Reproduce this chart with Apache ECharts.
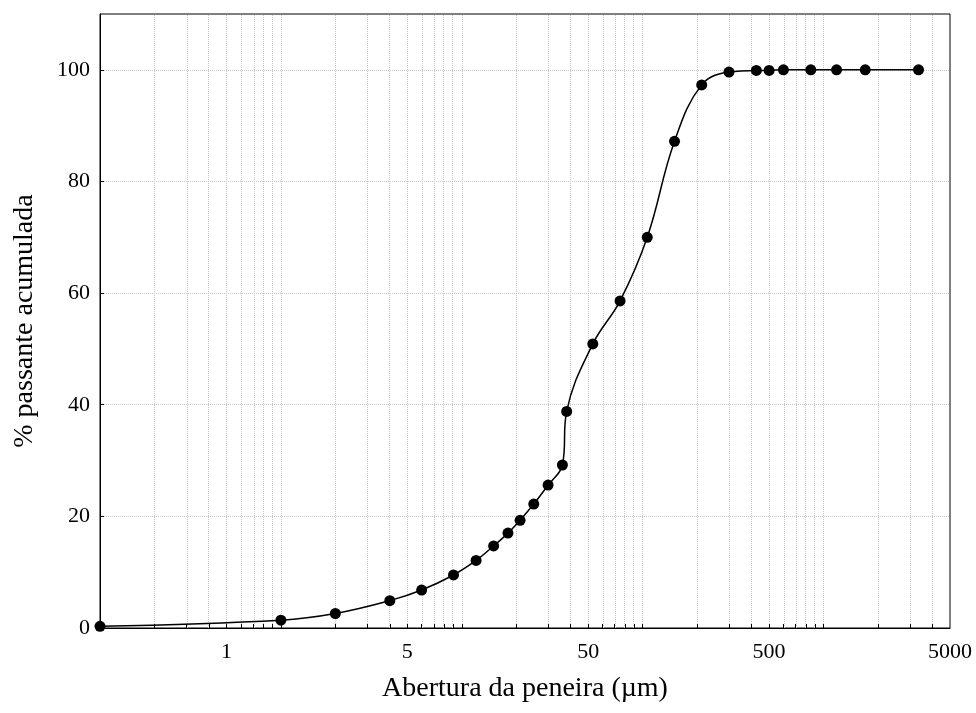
<!DOCTYPE html>
<html>
<head>
<meta charset="utf-8">
<script src="https://cdn.jsdelivr.net/npm/echarts@6/dist/echarts.min.js"></script>
<style>
  html, body { margin: 0; padding: 0; background: #fff; }
  #chart { width: 976px; height: 713px; }
</style>
</head>
<body>
<div id="chart"></div>
<script>
// abertura da peneira (um) e % passante acumulada
var sizes   = [0.1, 1, 2, 4, 6, 9, 12, 15, 18, 21, 25, 30, 36, 38, 53, 75, 106, 150, 212, 300, 425, 500, 600, 850, 1180, 1700, 3350];
var passing = [0.3, 1.4, 2.6, 4.9, 6.8, 9.5, 12.1, 14.7, 17.0, 19.3, 22.2, 25.6, 29.2, 38.8, 50.9, 58.6, 70.0, 87.2, 97.3, 99.6, 99.9, 99.9, 100, 100, 100, 100, 100];

// rotulos do eixo x (o original mostra "1" na posicao de 0.5)
var xTickValues = [0.5, 5, 50, 500, 5000];
var xTickLabels = ['1', '5', '50', '500', '5000'];
var yTickValues = [0, 20, 40, 60, 80, 100];

var xMin = 0.1, xMax = 5000;

// grade logaritmica 1..9 x 10^n
var gridValues = [];
for (var e = -1; e <= 3; e++) {
    for (var k = 1; k <= 9; k++) {
        var v = k * Math.pow(10, e);
        if (v > xMin && v < xMax) gridValues.push(v);
    }
}

var lg = function (v) { return Math.log10(v); };
var font = '"Liberation Serif", "Times New Roman", serif';
var gridColor = '#c8c8c8';

var chart = echarts.init(document.getElementById('chart'));

var option = {
    animation: false,
    backgroundColor: '#fff',
    grid: {
        left: 100, right: 26, top: 14, bottom: 85,
        show: true, borderColor: '#000', borderWidth: 1,
        outerBoundsMode: 'none'
    },
    xAxis: {
        type: 'value',
        min: lg(xMin),
        max: lg(xMax),
        name: 'Abertura da peneira (\u00b5m)',
        nameLocation: 'middle',
        nameGap: 47,
        nameTextStyle: { fontFamily: font, fontSize: 28, color: '#000' },
        axisLine: { onZero: false, lineStyle: { color: '#000', width: 1 } },
        axisTick: {
            inside: true, length: 4,
            customValues: gridValues.map(lg),
            lineStyle: { color: '#000' }
        },
        axisLabel: {
            customValues: xTickValues.map(lg),
            margin: 13,
            fontFamily: font, fontSize: 22, color: '#000',
            formatter: function (val) {
                for (var i = 0; i < xTickValues.length; i++) {
                    if (Math.abs(lg(xTickValues[i]) - val) < 1e-6) return xTickLabels[i];
                }
                return '';
            }
        },
        splitLine: { show: false }
    },
    yAxis: {
        type: 'value',
        min: 0,
        max: 110,
        interval: 20,
        name: '% passante acumulada',
        nameLocation: 'middle',
        nameGap: 61,
        nameTextStyle: { fontFamily: font, fontSize: 28, color: '#000' },
        axisLine: { show: true, onZero: false, lineStyle: { color: '#000', width: 1 } },
        axisTick: { show: true, inside: true, length: 4, customValues: yTickValues, lineStyle: { color: '#000' } },
        axisLabel: {
            customValues: yTickValues,
            margin: 10,
            fontFamily: font, fontSize: 22, color: '#000'
        },
        splitLine: { show: true, lineStyle: { color: gridColor, type: 'dotted', width: 1 } }
    },
    series: [
        {
            // linhas verticais da grade
            type: 'line',
            data: [],
            z: 0,
            silent: true,
            markLine: {
                z: 0,
                silent: true,
                symbol: 'none',
                label: { show: false },
                lineStyle: { color: gridColor, type: 'dotted', width: 1 },
                emphasis: { disabled: true },
                data: gridValues.map(function (v) { return { xAxis: lg(v) }; })
            }
        },
        {
            type: 'line',
            z: 5,
            data: sizes.map(function (s, i) { return [lg(s), passing[i]]; }),
            smooth: 0.4,
            symbol: 'circle',
            symbolSize: 11,
            itemStyle: { color: '#000' },
            lineStyle: { color: '#000', width: 1.5 },
            clip: false
        }
    ]
};

chart.setOption(option);
</script>
</body>
</html>
